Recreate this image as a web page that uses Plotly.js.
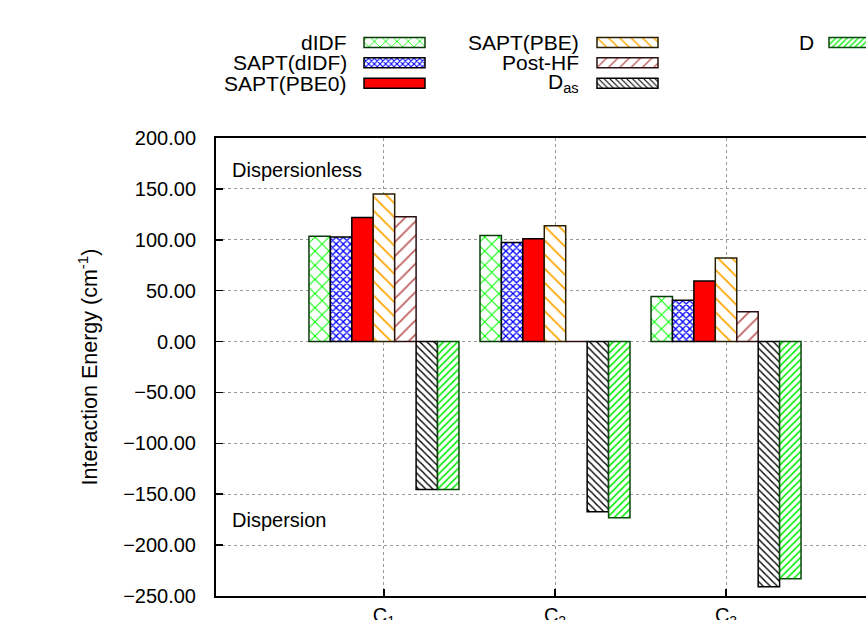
<!DOCTYPE html>
<html>
<head>
<meta charset="utf-8">
<script src="https://cdn.plot.ly/plotly-3.0.1.min.js"></script>
<style>
html, body { margin: 0; padding: 0; overflow: hidden; background: #fff; }
#chart { width: 960px; height: 650px; }
</style>
</head>
<body>
<div id="chart"></div>
<script>
// ---- data ----
const categories = ['C<sub>1</sub>', 'C<sub>2</sub>', 'C<sub>3</sub>'];
const seriesNames = ['dIDF', 'SAPT(dIDF)', 'SAPT(PBE0)', 'SAPT(PBE)', 'Post-HF', 'D<sub>as</sub>', 'D'];
const dIDF      = [103.5, 104.3, 44.3];
const saptDIDF  = [102.8, 97.4, 40.7];
const saptPBE0  = [122.0, 101.0, 59.4];
const saptPBE   = [145.0, 113.9, 82.0];
const postHF    = [122.7, 0.0, 29.2];
const dAs       = [-145.3, -167.3, -241.0];
const dDisp     = [-145.3, -173.2, -233.0];
const seriesValues = [dIDF, saptDIDF, saptPBE0, saptPBE, postHF, dAs, dDisp];
const yTickVals = [-250, -200, -150, -100, -50, 0, 50, 100, 150, 200];

// ---- styles ----
const styles = [
  {bg: 'white', fg: '#00ff00', shape: 'x', size: 10, sol: 0.2, line: '#0a3a0a'},
  {bg: 'white', fg: '#0000ff', shape: 'x', size: 5, sol: 0.45, line: '#000000'},
  {bg: '#ff0000', fg: '#ff0000', shape: '', size: 8, sol: 0.3, line: '#000000'},
  {bg: 'white', fg: '#ffa500', shape: '\\', size: 10, sol: 0.18, line: '#2a2000'},
  {bg: 'white', fg: '#c06060', shape: '/', size: 10, sol: 0.18, line: '#2a1010'},
  {bg: 'white', fg: '#000000', shape: '\\', size: 5, sol: 0.28, line: '#000000'},
  {bg: 'white', fg: '#00ee00', shape: '/', size: 5, sol: 0.32, line: '#0a4a0a'}
];

const traces = [];
seriesValues.forEach((vals, i) => {
  const s = styles[i];
  traces.push({
    type: 'bar', x: categories, y: vals, name: seriesNames[i],
    xaxis: 'x', yaxis: 'y', showlegend: false, hoverinfo: 'skip',
    marker: {
      color: s.bg,
      line: {color: s.line, width: 1.5},
      pattern: {shape: s.shape, fgcolor: s.fg, bgcolor: s.bg, size: s.size, solidity: s.sol, fillmode: 'replace'}
    }
  });
});

// ---- custom gnuplot-style legend (text left, swatch right) ----
const legendCols = [{textX: 349, swX: 364}, {textX: 581, swX: 597}, {textX: 816, swX: 829}];
const legendRows = [42.5, 62.8, 83.3];
const legendPos = [[0,0],[0,1],[0,2],[1,0],[1,1],[1,2],[2,0]];
const annotations = [];
legendPos.forEach((p, i) => {
  const col = legendCols[p[0]], yRow = legendRows[p[1]];
  const s = styles[i];
  traces.push({
    type: 'bar', orientation: 'h', xaxis: 'x2', yaxis: 'y2', showlegend: false, hoverinfo: 'skip',
    y: [yRow], x: [61], base: [col.swX], width: [10], offset: [-5],
    marker: {
      color: s.bg,
      line: {color: s.line, width: 1.5},
      pattern: {shape: s.shape, fgcolor: s.fg, bgcolor: s.bg, size: Math.max(4, s.size * 0.8), solidity: s.sol, fillmode: 'replace'}
    }
  });
  annotations.push({
    xref: 'x2', yref: 'y2', x: col.textX, y: yRow, xanchor: 'right', yanchor: 'middle',
    text: seriesNames[i], showarrow: false,
    font: {family: 'Liberation Sans, Arial, sans-serif', size: 21, color: '#000'}
  });
});

annotations.push({
  xref: 'paper', yref: 'y', x: 0.021, y: 169, xanchor: 'left', yanchor: 'middle',
  text: 'Dispersionless', showarrow: false,
  font: {family: 'Liberation Sans, Arial, sans-serif', size: 20, color: '#000'}
});
annotations.push({
  xref: 'paper', yref: 'y', x: 0.021, y: -175, xanchor: 'left', yanchor: 'middle',
  text: 'Dispersion', showarrow: false,
  font: {family: 'Liberation Sans, Arial, sans-serif', size: 20, color: '#000'}
});

const W = 960, H = 650;
const plotTop = 30, plotBottom = 596, axesTop = 138;
const layout = {
  width: W, height: H,
  margin: {l: 216, r: W - 894, t: plotTop, b: H - plotBottom, pad: 0},
  paper_bgcolor: '#fff', plot_bgcolor: 'rgba(0,0,0,0)',
  font: {family: 'Liberation Sans, Arial, sans-serif', size: 20, color: '#000'},
  barmode: 'group', bargap: 0.123, bargroupgap: 0,
  showlegend: false,
  xaxis: {
    type: 'category', categoryorder: 'array', categoryarray: categories,
    range: [-0.982, 2.982], domain: [0, 1],
    showline: true, linecolor: '#000', linewidth: 2, mirror: true,
    ticks: 'inside', ticklen: 7, tickwidth: 2, tickcolor: '#000',
    showgrid: true, gridcolor: '#999', griddash: 'dot', gridwidth: 1,
    tickfont: {size: 20}, anchor: 'y', fixedrange: true
  },
  yaxis: {
    range: [-250, 200], domain: [0, (plotBottom - axesTop) / (plotBottom - plotTop)],
    tickvals: yTickVals, tickformat: '.2f',
    showline: true, linecolor: '#000', linewidth: 2, mirror: true,
    ticks: 'inside', ticklen: 7, tickwidth: 1.5, tickcolor: '#000',
    ticklabelstandoff: 14,
    showgrid: true, gridcolor: '#999', griddash: 'dot', gridwidth: 1,
    zeroline: false,
    tickfont: {size: 20},
    title: {text: 'Interaction Energy (cm<sup>-1</sup>)', font: {size: 21.5}, standoff: 20},
    anchor: 'x', fixedrange: true
  },
  xaxis2: {
    domain: [0, 1], range: [216, 894], anchor: 'y2', visible: false, fixedrange: true
  },
  yaxis2: {
    domain: [(plotBottom - 100) / (plotBottom - plotTop), 1], range: [100, 30],
    anchor: 'x2', visible: false, fixedrange: true
  },
  annotations: annotations
};

Plotly.newPlot('chart', traces, layout, {displayModeBar: false, staticPlot: true});
</script>
</body>
</html>
